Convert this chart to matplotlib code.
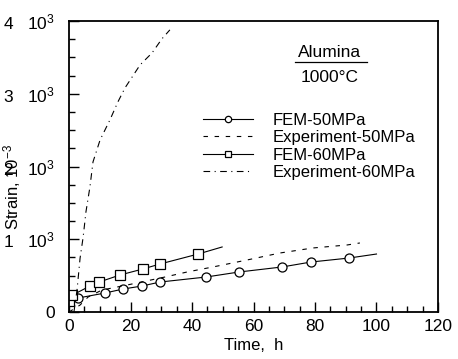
import numpy as np
import matplotlib
matplotlib.use('Agg')
import matplotlib.pyplot as plt
from matplotlib.ticker import MultipleLocator

plt.rcParams['font.family'] = ['Liberation Sans', 'DejaVu Sans']
plt.rcParams['mathtext.default'] = 'regular'

# FEM 50 MPa (circles)
fem50_t = [2.9, 11.7, 17.6, 23.7, 29.6, 44.6, 55.3, 69.3, 78.7, 91.1, 100]
fem50_s = [192, 261, 316, 357, 412, 481, 550, 619, 687, 742, 797]
fem50_mark = [0, 1, 2, 3, 4, 5, 6, 7, 8, 9]

# experiment 50 MPa (dashed)
exp50_t = [0, 3.6, 6.2, 10.7, 18.9, 31.2, 38.4, 46.8, 57.9, 68.6, 79.3, 90.4, 94.6]
exp50_s = [0, 96, 206, 302, 371, 481, 550, 619, 715, 811, 880, 921, 949]

# FEM 60 MPa (squares)
fem60_t = [0, 1, 6.8, 9.8, 16.6, 24, 29.6, 42, 49.8]
fem60_s = [150, 230, 357, 412, 509, 591, 660, 797, 894]
fem60_mark = [0, 1, 2, 3, 4, 5, 6, 7]

# experiment 60 MPa (dash-dot)
exp60_t = [1.6, 2.6, 3.6, 4.6, 5.5, 6.8, 7.8, 10.1, 13.3, 15.9, 18.2, 23.1, 27, 30.2, 32.8]
exp60_s = [0, 300, 742, 1031, 1375, 1719, 2063, 2365, 2640, 2888, 3080, 3396, 3561, 3754, 3878]

yticks = [0, 1000, 2000, 3000, 4000]
ytick_labels = ['0', r'1   $10^3$', r'2   $10^3$', r'3   $10^3$', r'4   $10^3$']
xticks = [0, 20, 40, 60, 80, 100, 120]

fig = plt.figure(figsize=(4.58, 3.59), dpi=100)
ax = fig.add_axes([0.1507, 0.1309, 0.8056, 0.8106])

lw = 0.8
ax.plot(fem50_t, fem50_s, 'k-', lw=lw, marker='o', markersize=6.5,
        markerfacecolor='white', markeredgewidth=0.9, markevery=fem50_mark,
        label='FEM-50MPa')
ax.plot(exp50_t, exp50_s, color='k', lw=lw, dashes=(4, 6), label='Experiment-50MPa')
ax.plot(fem60_t, fem60_s, 'k-', lw=lw, marker='s', markersize=6.5,
        markerfacecolor='white', markeredgewidth=0.9, markevery=fem60_mark,
        label='FEM-60MPa')
ax.plot(exp60_t, exp60_s, color='k', lw=lw, dashes=(6, 4, 1, 4), label='Experiment-60MPa')

ax.set_xlim(0, 120)
ax.set_ylim(0, 4000)
ax.set_xticks(xticks)
ax.set_xticklabels([str(v) for v in xticks])
ax.set_yticks(yticks)
ax.set_yticklabels(ytick_labels)
ax.xaxis.set_minor_locator(MultipleLocator(5))
ax.yaxis.set_minor_locator(MultipleLocator(250))
ax.tick_params(which='both', direction='in', top=False, right=False, labelsize=12.5, width=1.0)
ax.tick_params(which='major', length=7, pad=5)
ax.tick_params(axis='y', which='major', pad=10)
ax.tick_params(which='minor', length=4)
for sp in ax.spines.values():
    sp.set_linewidth(1.3)

ax.set_xlabel('Time,  h', fontsize=12, labelpad=3)
ax.set_ylabel(r'Strain, $10^{-3}$', fontsize=12)
ax.yaxis.set_label_coords(-0.125, 0.43)

ax.text(0.705, 0.893, 'Alumina', transform=ax.transAxes, ha='center', va='center', fontsize=12.5)
ax.plot([0.613, 0.808], [0.858, 0.858], transform=ax.transAxes, color='k', lw=0.9)
ax.text(0.705, 0.807, '1000\u00b0C', transform=ax.transAxes, ha='center', va='center', fontsize=12.5)

leg = ax.legend(loc='upper left', bbox_to_anchor=(0.363, 0.685), frameon=False,
                fontsize=12, handlelength=3.0, handletextpad=1.2, labelspacing=0.15,
                borderpad=0, borderaxespad=0, markerscale=0.7)

fig.savefig('out.png', dpi=100)
